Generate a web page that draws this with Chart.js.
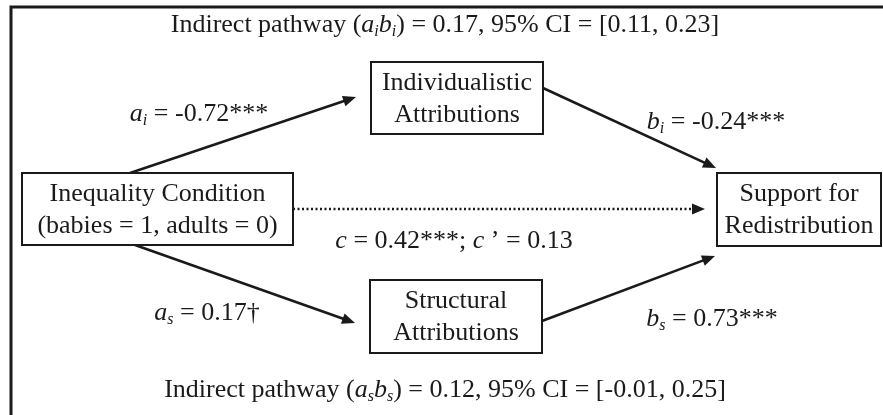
<!DOCTYPE html>
<html>
<head>
<meta charset="utf-8">
<script src="https://cdn.jsdelivr.net/npm/chart.js@4"></script>
<style>
html,body{margin:0;padding:0;background:#fff;}
#wrap{width:883px;height:415px;position:relative;}
</style>
</head>
<body>
<div id="wrap"><canvas id="c" width="883" height="415"></canvas></div>
<script>
// ---- data ----
const nodeNames = [
  ['Inequality Condition', '(babies = 1, adults = 0)'],
  ['Individualistic', 'Attributions'],
  ['Structural', 'Attributions'],
  ['Support for', 'Redistribution']
];
const pathNames = ['a_i', 'b_i', 'c', 'a_s', 'b_s'];
const pathCoefficients = [-0.72, -0.24, 0.42, 0.17, 0.73];
const pathSignificance = ['***', '***', '***', '†', '***'];
const directEffectPrime = 0.13;
const indirectNames = ['i', 's'];
const indirectEffects = [0.17, 0.12];
const ciLower = [0.11, -0.01];
const ciUpper = [0.23, 0.25];

// ---- layout (diagram units = pixels of 883x415 canvas) ----
const nodeBoxes = [ // x0, y0, x1, y1
  [22, 173, 293, 245],
  [371, 62, 543, 134],
  [370, 280, 542, 353],
  [717, 173, 881, 246]
];
const pathEnds = [ // from -> tip
  [[130, 173], [356, 97]],
  [[543, 88], [716, 168]],
  [[293, 209], [705, 209]],
  [[135, 245], [355, 323]],
  [[542, 321], [715, 256]]
];
const pathLabelPos = [[199, 114], [716, 122], [454, 241], [207, 313], [712, 319]];
const indirectLabelPos = [[445, 25], [445, 390]];

const FONT = '"Liberation Serif", "Times New Roman", serif';
const FS = 26, SUBFS = 16, SUBDY = 7;
const INK = '#1a1a1a';

function fmt(v){ return v.toFixed(2); }

function pathSegments(k){
  const nm = pathNames[k].split('_');
  if (pathNames[k] === 'c') {
    return [{t:'c',it:1},{t:' = ' + fmt(pathCoefficients[k]) + pathSignificance[k] + '; '},
            {t:'c',it:1},{t:' ’ = ' + fmt(directEffectPrime)}];
  }
  return [{t:nm[0],it:1},{t:nm[1],it:1,sub:1},{t:' = ' + fmt(pathCoefficients[k]) + pathSignificance[k]}];
}
function indirectSegments(k){
  const s = indirectNames[k];
  return [{t:'Indirect pathway ('},{t:'a',it:1},{t:s,it:1,sub:1},{t:'b',it:1},{t:s,it:1,sub:1},
          {t:') = ' + fmt(indirectEffects[k]) + ', 95% CI = [' + fmt(ciLower[k]) + ', ' + fmt(ciUpper[k]) + ']'}];
}
function segFont(s){ return (s.it ? 'italic ' : '') + (s.sub ? SUBFS : FS) + 'px ' + FONT; }
function drawRich(ctx, segs, cx, cy){
  let w = 0;
  segs.forEach(s => { ctx.font = segFont(s); s.w = ctx.measureText(s.t).width; w += s.w; });
  let x = cx - w/2;
  ctx.textBaseline = 'middle';
  ctx.textAlign = 'left';
  segs.forEach(s => {
    ctx.font = segFont(s);
    ctx.fillText(s.t, x, cy + (s.sub ? SUBDY : 0));
    x += s.w;
  });
}

const diagramPlugin = {
  id: 'diagram',
  afterDatasetsDraw(chart){
    const ctx = chart.ctx, X = chart.scales.x, Y = chart.scales.y;
    const px = v => X.getPixelForValue(v), py = v => Y.getPixelForValue(v);
    ctx.save();
    ctx.strokeStyle = INK; ctx.fillStyle = INK;
    // frame (top and left rules)
    ctx.lineWidth = 3;
    ctx.beginPath();
    ctx.moveTo(px(11), py(415)); ctx.lineTo(px(11), py(7)); ctx.lineTo(px(883), py(7));
    ctx.stroke();
    // boxes
    ctx.lineWidth = 2;
    nodeBoxes.forEach((b, i) => {
      const x0 = px(b[0]), y0 = py(b[1]), x1 = px(b[2]), y1 = py(b[3]);
      ctx.fillStyle = '#fff';
      ctx.fillRect(x0, y0, x1 - x0, y1 - y0);
      ctx.strokeRect(x0, y0, x1 - x0, y1 - y0);
      ctx.fillStyle = INK;
      const cx = (x0 + x1)/2, cy = (y0 + y1)/2 + 1;
      drawRich(ctx, [{t:nodeNames[i][0]}], cx, cy - 16);
      drawRich(ctx, [{t:nodeNames[i][1]}], cx, cy + 16);
    });
    // arrowheads
    pathEnds.forEach(p => {
      const x0 = px(p[0][0]), y0 = py(p[0][1]), x1 = px(p[1][0]), y1 = py(p[1][1]);
      const a = Math.atan2(y1 - y0, x1 - x0), L = 13, H = 5.5;
      ctx.beginPath();
      ctx.moveTo(x1, y1);
      ctx.lineTo(x1 - L*Math.cos(a) + H*Math.sin(a), y1 - L*Math.sin(a) - H*Math.cos(a));
      ctx.lineTo(x1 - L*Math.cos(a) - H*Math.sin(a), y1 - L*Math.sin(a) + H*Math.cos(a));
      ctx.closePath();
      ctx.fill();
    });
    // labels
    pathLabelPos.forEach((p, k) => drawRich(ctx, pathSegments(k), px(p[0]), py(p[1])));
    indirectLabelPos.forEach((p, k) => drawRich(ctx, indirectSegments(k), px(p[0]), py(p[1])));
    ctx.restore();
  }
};

// path shafts as line datasets, ending at the arrowhead base
const datasets = pathEnds.map((p, k) => {
  const dx = p[1][0] - p[0][0], dy = p[1][1] - p[0][1], len = Math.hypot(dx, dy);
  const end = {x: p[1][0] - dx/len*11, y: p[1][1] - dy/len*11};
  return {
    label: pathNames[k],
    data: [{x: p[0][0], y: p[0][1]}, end],
    showLine: true,
    borderColor: INK,
    borderWidth: 2.6,
    borderDash: pathNames[k] === 'c' ? [2, 2.5] : [],
    pointRadius: 0,
    fill: false
  };
});

new Chart(document.getElementById('c'), {
  type: 'scatter',
  data: { datasets },
  options: {
    responsive: false,
    animation: false,
    devicePixelRatio: 1,
    layout: { padding: 0 },
    plugins: { legend: { display: false }, tooltip: { enabled: false } },
    scales: {
      x: { type: 'linear', min: 0, max: 883, display: false },
      y: { type: 'linear', min: 0, max: 415, reverse: true, display: false }
    }
  },
  plugins: [diagramPlugin]
});
</script>
</body>
</html>
